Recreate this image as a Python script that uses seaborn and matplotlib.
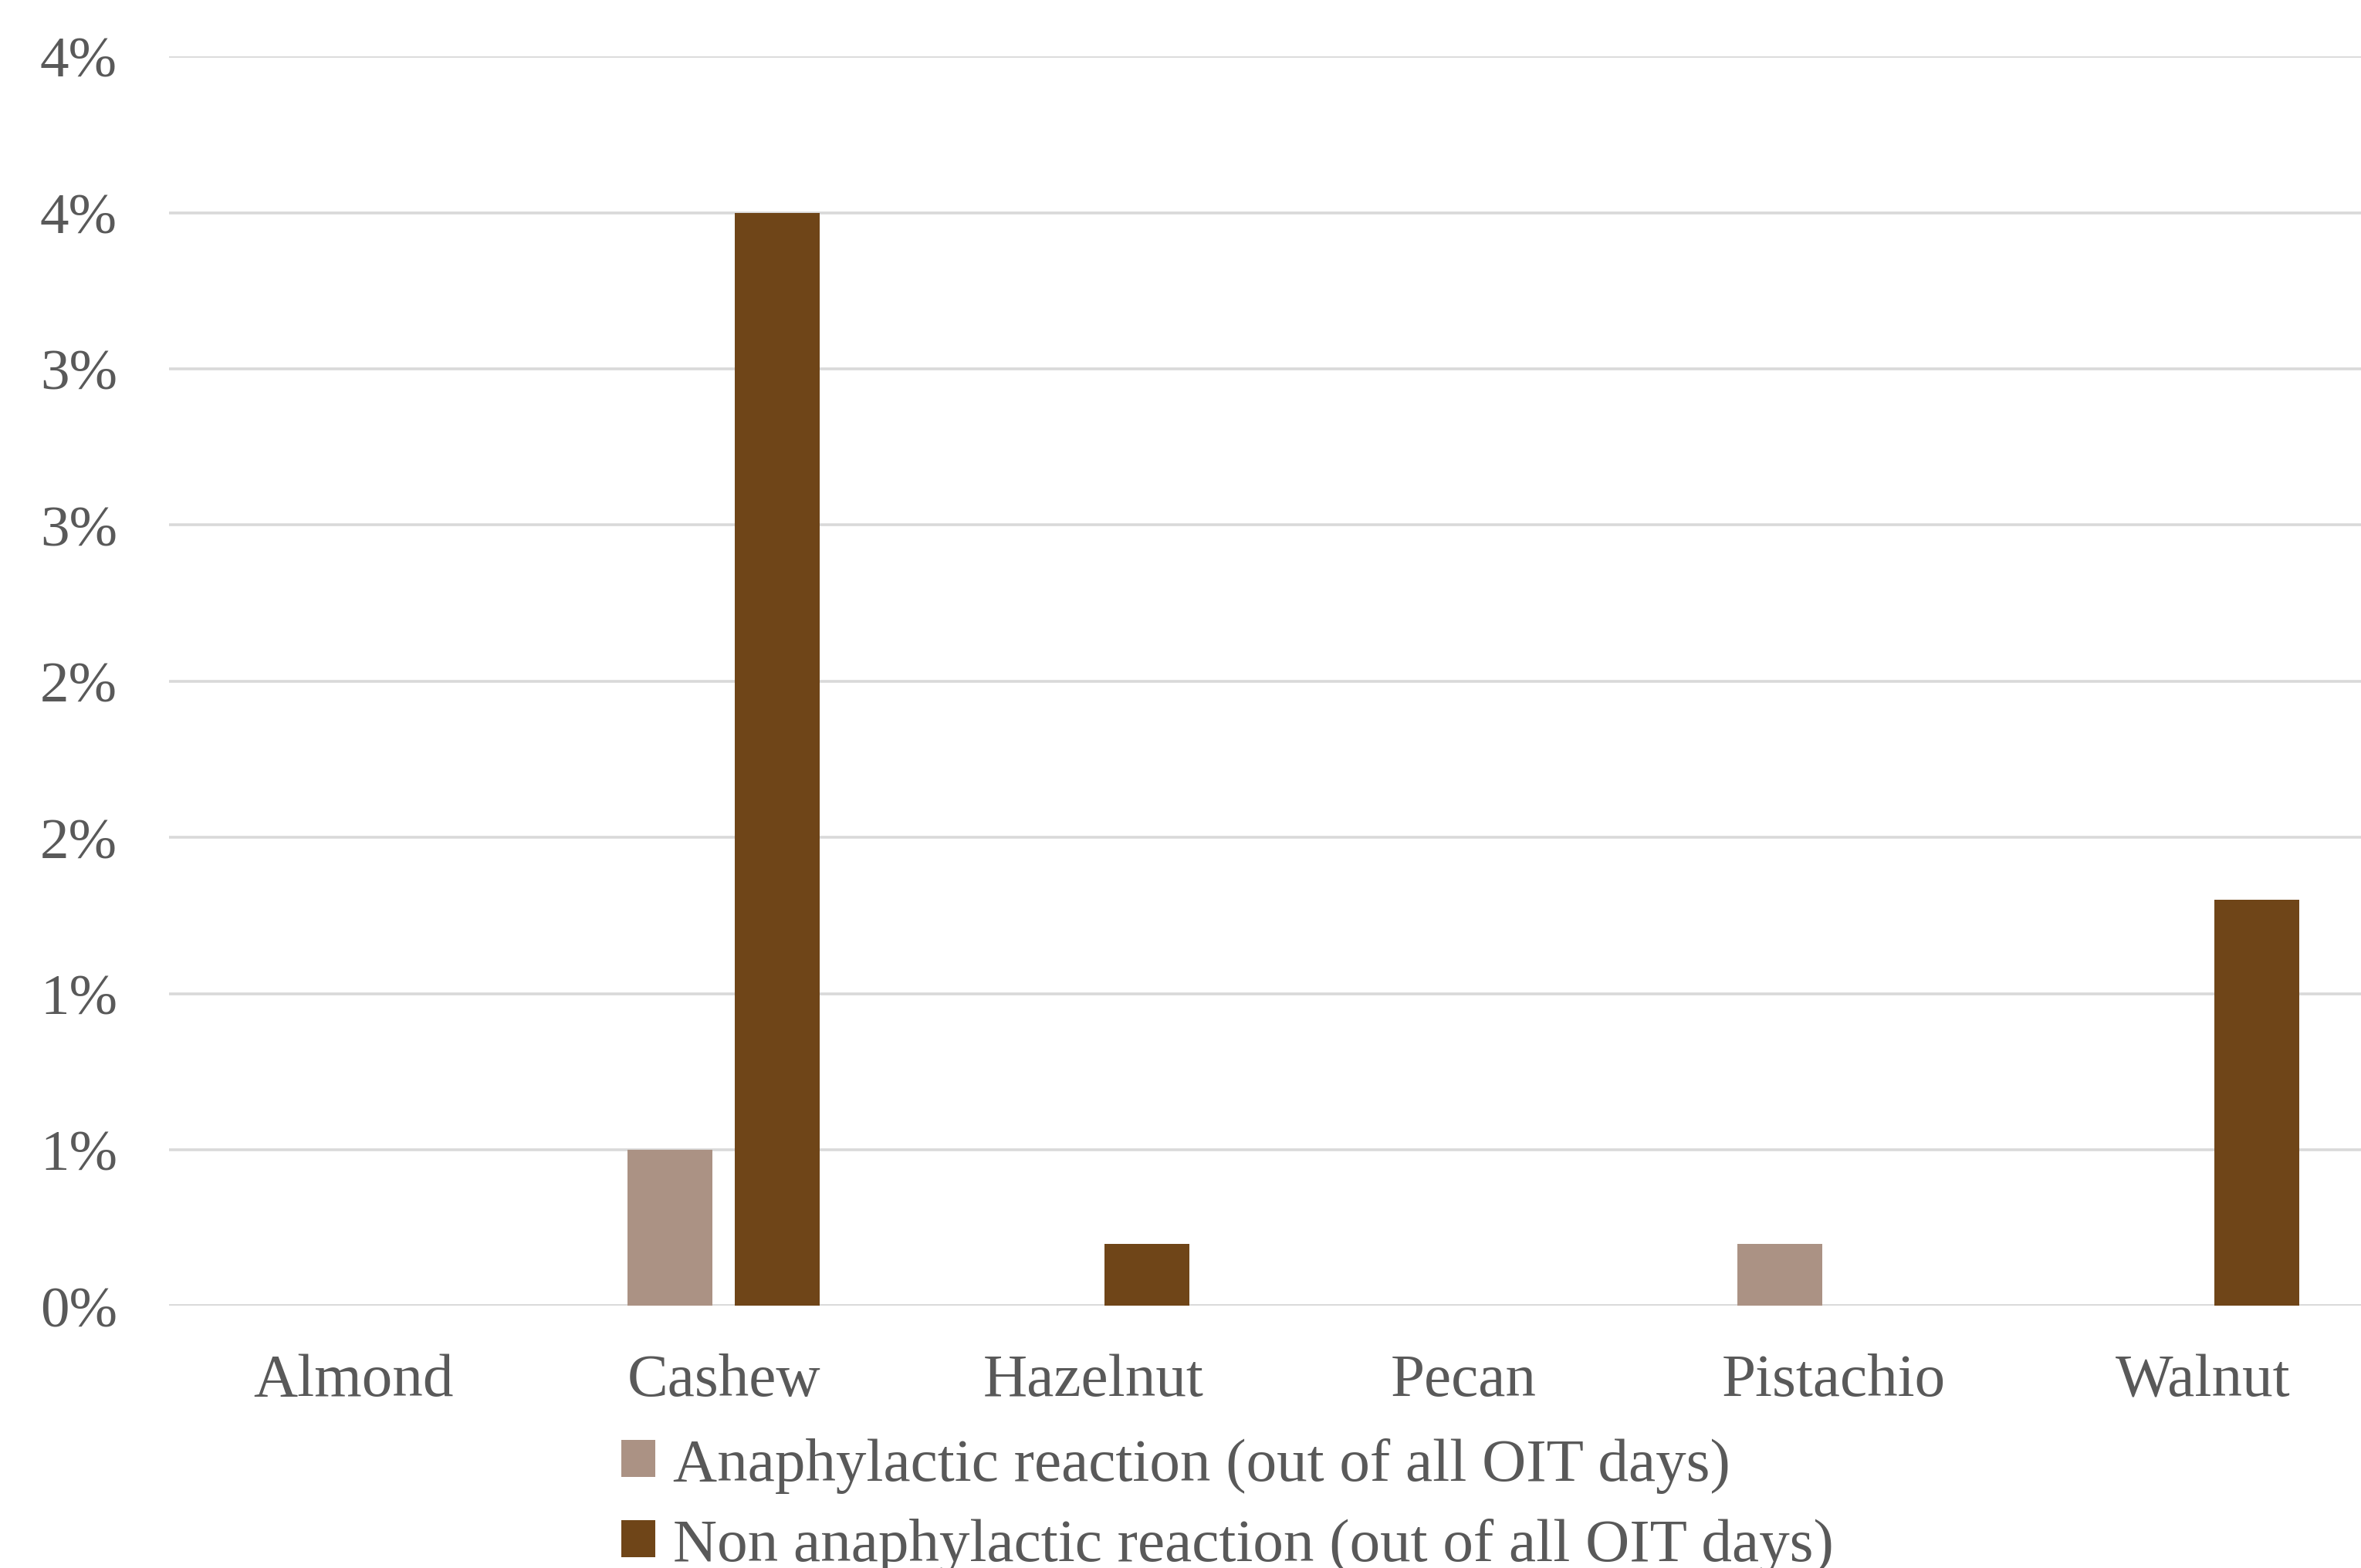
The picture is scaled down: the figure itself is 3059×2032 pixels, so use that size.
import matplotlib
matplotlib.use("Agg")
import matplotlib.pyplot as plt
import seaborn as sns
import pandas as pd
from matplotlib.patches import Patch

# data (fractions, shown as %)
nuts = ["Almond", "Cashew", "Hazelnut", "Pecan", "Pistachio", "Walnut"]
anaphylactic = [0.0, 0.005, 0.0, 0.0, 0.002, 0.0]
non_anaphylactic = [0.0, 0.035, 0.002, 0.0, 0.0, 0.013]
series_names = ["Anaphylactic reaction (out of all OIT days)",
                "Non anaphylactic reaction (out of all OIT days)"]
y_ticks = [0, 0.005, 0.01, 0.015, 0.02, 0.025, 0.03, 0.035, 0.04]
y_tick_labels = ["0%", "1%", "1%", "2%", "2%", "3%", "3%", "4%", "4%"]

colors = ["#AB9284", "#6F4518"]
text_col = "#595959"

df = pd.DataFrame({
    "nut": nuts * 2,
    "value": anaphylactic + non_anaphylactic,
    "series": [series_names[0]] * len(nuts) + [series_names[1]] * len(nuts),
})

sns.set_style("white")
plt.rcParams["font.family"] = ["Liberation Serif", "DejaVu Serif"]

fig = plt.figure(figsize=(15.295, 10.165), dpi=200)
ax = fig.add_axes([0.0715, 0.167, 1.0115 - 0.0715, 0.9635 - 0.167])

sns.barplot(data=df, x="nut", y="value", hue="series", palette=colors,
            saturation=1, width=0.58, gap=0.21, linewidth=0, legend=False, ax=ax)

ax.set_ylim(0, 0.04)
ax.set_xlim(-0.5, 5.5)
ax.set_yticks(y_ticks)
ax.set_yticklabels(y_tick_labels)
ax.yaxis.grid(True, color="#D9D9D9", linewidth=1.3)
ax.set_axisbelow(True)
for s in ax.spines.values():
    s.set_visible(False)
ax.axhline(0, color="#D9D9D9", linewidth=1.3, zorder=0)
ax.set_xlabel("")
ax.set_ylabel("")
ax.tick_params(axis="y", length=0, pad=24, labelsize=27, labelcolor=text_col)
ax.tick_params(axis="x", length=0, pad=22, labelsize=28.5, labelcolor=text_col)

handles = [Patch(facecolor=c, edgecolor="none") for c in colors]
fig.legend(handles, series_names, loc="lower center", bbox_to_anchor=(0.52, -0.019),
           ncol=1, frameon=False, fontsize=28.5, labelcolor=text_col,
           handlelength=0.55, handleheight=0.55, handletextpad=0.3,
           labelspacing=0.4, borderaxespad=0)

fig.savefig("out.png", dpi=200)
